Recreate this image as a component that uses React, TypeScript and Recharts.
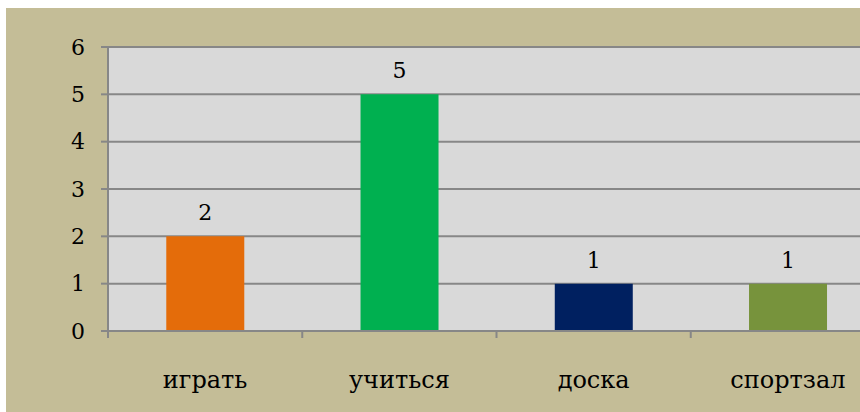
import { BarChart, Bar, XAxis, YAxis, CartesianGrid, Cell, LabelList } from "recharts";

const categories = ["играть", "учиться", "доска", "спортзал"];
const values = [2, 5, 1, 1];
const barColors = ["#e46c0a", "#00b050", "#002060", "#77933c"];
const yTicks = [0, 1, 2, 3, 4, 5, 6];

const data = categories.map((name, i) => ({ name, value: values[i] }));

const FONT = "DejaVu Serif";
const PLOT_W = 777;
const HALF_BAND = PLOT_W / categories.length / 2;

function CategoryTick(props: any) {
  const { x, y, payload } = props;
  return (
    <g>
      <line x1={x - HALF_BAND} y1={y} x2={x - HALF_BAND} y2={y + 7} stroke="#878787" strokeWidth={2} />
      <text x={x} y={y + 57} textAnchor="middle" fontFamily={FONT} fontSize={24} fill="#000">
        {payload.value}
      </text>
    </g>
  );
}

export default function App() {
  return (
    <div
      style={{
        position: "absolute",
        left: 6,
        top: 8,
        width: 854,
        height: 404,
        overflow: "hidden",
        background: "#c4bd97",
      }}
    >
      <BarChart
        width={102 + PLOT_W}
        height={404}
        data={data}
        margin={{ top: 39, right: 0, bottom: 0, left: 0 }}
        barCategoryGap="30%"
      >
        <CartesianGrid vertical={false} stroke="#878787" strokeWidth={2} fill="#d9d9d9" />
        <XAxis
          dataKey="name"
          height={81}
          tickSize={0}
          tickMargin={0}
          axisLine={{ stroke: "#878787", strokeWidth: 2 }}
          tickLine={false}
          tick={<CategoryTick />}
          interval={0}
        />
        <YAxis
          width={102}
          domain={[0, 6]}
          ticks={yTicks}
          interval={0}
          tickSize={7}
          tickMargin={16}
          axisLine={{ stroke: "#878787", strokeWidth: 2 }}
          tickLine={{ stroke: "#878787", strokeWidth: 2 }}
          tick={{ fontSize: 22, fill: "#000", fontFamily: FONT }}
        />
        <Bar dataKey="value" isAnimationActive={false}>
          {data.map((d, i) => (
            <Cell key={d.name} fill={barColors[i]} />
          ))}
          <LabelList dataKey="value" position="top" offset={16} fontFamily={FONT} fontSize={22} fill="#000" />
        </Bar>
      </BarChart>
    </div>
  );
}
